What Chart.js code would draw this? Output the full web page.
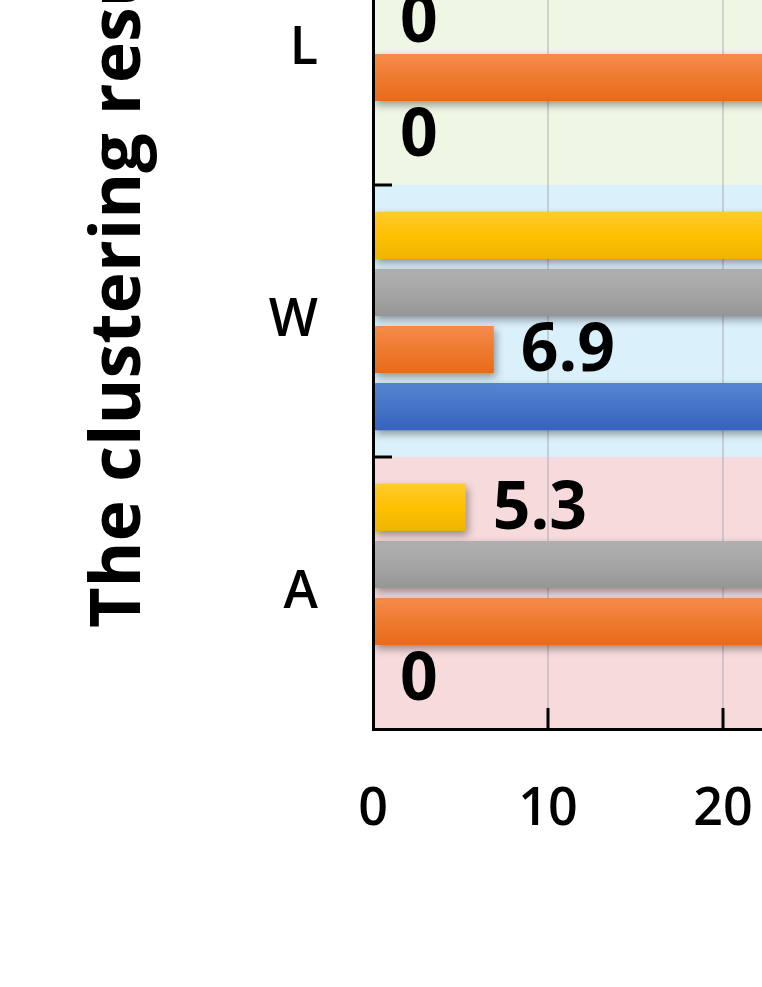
<!DOCTYPE html>
<html><head><meta charset="utf-8">
<script src="https://cdn.jsdelivr.net/npm/chart.js@4.4.1/dist/chart.umd.min.js"></script>
<style>
html,body{margin:0;padding:0;background:#fff;overflow:hidden;width:762px;height:987px;}
#wrap{position:absolute;left:0;top:-187px;}
</style></head><body>
<div id="wrap"><canvas id="c" width="1348" height="1116"></canvas></div>
<script>
// ---- data ----
const categories = ['L', 'W', 'A'];
const seriesNames = ['Series 1', 'Series 2', 'Series 3', 'Series 4'];
const yellowValues = [38.0, 40.5, 5.3];
const grayValues   = [0, 37.2, 42.6];
const orangeValues = [45.8, 6.9, 41.4];
const blueValues   = [0, 44.3, 0];
const xTickValues  = [0, 10, 20, 30, 40, 50];
const yAxisTitle   = 'The clustering results';

// ---- styles ----
const bandColors = ['#EEF6E4', '#DAF0FA', '#F7DADB'];
const CAT_PCT = 0.84, BAR_PCT = 0.825;
const FONT = '"Open Sans", "DejaVu Sans", sans-serif';

function grad(top, mid, bot) {
  return function (ctx) {
    const chart = ctx.chart, ys = chart.scales && chart.scales.y;
    if (ctx.type !== 'data' || !ys || !chart.chartArea) return mid;
    const c = ys.getPixelForValue(ctx.dataIndex);
    const cat = Math.abs(ys.getPixelForValue(1) - ys.getPixelForValue(0));
    const n = chart.data.datasets.length;
    const slot = cat * CAT_PCT / n;
    const y0 = c - cat * CAT_PCT / 2 + slot * ctx.datasetIndex + slot * (1 - BAR_PCT) / 2;
    const y1 = y0 + slot * BAR_PCT;
    const g = chart.ctx.createLinearGradient(0, y0, 0, y1);
    g.addColorStop(0, top); g.addColorStop(0.5, mid); g.addColorStop(1, bot);
    return g;
  };
}

const bandPlugin = {
  id: 'bands',
  beforeDraw(chart) {
    const {ctx, chartArea: a, scales: {y}} = chart;
    const cat = y.getPixelForValue(1) - y.getPixelForValue(0);
    ctx.save();
    categories.forEach((_, i) => {
      const c = y.getPixelForValue(i);
      ctx.fillStyle = bandColors[i];
      ctx.fillRect(a.left, c - cat / 2, a.right - a.left, cat);
    });
    ctx.restore();
  }
};

const shadowLabelPlugin = {
  id: 'shadowLabels',
  beforeDatasetsDraw(chart) {
    const ctx = chart.ctx;
    ctx.save();
    ctx.shadowColor = 'rgba(0,0,0,0.38)';
    ctx.shadowBlur = 8;
    ctx.shadowOffsetX = 2;
    ctx.shadowOffsetY = 4;
  },
  afterDatasetsDraw(chart) {
    const ctx = chart.ctx;
    ctx.restore();
    ctx.save();
    ctx.font = 'bold 66px ' + FONT;
    ctx.fillStyle = '#000';
    ctx.textAlign = 'left';
    ctx.textBaseline = 'middle';
    chart.data.datasets.forEach((ds, di) => {
      const meta = chart.getDatasetMeta(di);
      meta.data.forEach((el, i) => {
        const v = ds.data[i];
        ctx.fillText(String(v), el.x + 27, el.y + 3);
      });
    });
    ctx.restore();
  },
  afterDraw(chart) {
    const {ctx, chartArea: a, scales: {x, y}} = chart;
    ctx.save();
    ctx.strokeStyle = '#000';
    ctx.lineWidth = 3;
    xTickValues.forEach(v => {
      if (v === 0) return;
      const px = x.getPixelForValue(v);
      ctx.beginPath(); ctx.moveTo(px, a.bottom); ctx.lineTo(px, a.bottom - 21); ctx.stroke();
    });
    for (let i = -1; i < categories.length - 1; i++) {
      const py = (y.getPixelForValue(i) + y.getPixelForValue(i + 1)) / 2;
      ctx.beginPath(); ctx.moveTo(a.left, py); ctx.lineTo(a.left + 19, py); ctx.stroke();
    }
    // y axis title
    ctx.translate(a.left - 233, a.bottom - 101);
    ctx.rotate(-Math.PI / 2);
    ctx.font = 'bold 70px ' + FONT;
    ctx.fillStyle = '#000';
    ctx.textAlign = 'left';
    ctx.textBaseline = 'alphabetic';
    ctx.fillText(yAxisTitle, 0, 0);
    ctx.restore();
  }
};

new Chart(document.getElementById('c'), {
  type: 'bar',
  data: {
    labels: categories,
    datasets: [
      {label: seriesNames[0], data: yellowValues, backgroundColor: grad('#FFCB2E', '#FFC000', '#EDB500')},
      {label: seriesNames[1], data: grayValues,   backgroundColor: grad('#B0B0B0', '#A5A5A5', '#969696')},
      {label: seriesNames[2], data: orangeValues, backgroundColor: grad('#F58C4C', '#EF7A30', '#E86A1A')},
      {label: seriesNames[3], data: blueValues,   backgroundColor: grad('#5585D2', '#4674C6', '#3563BE')}
    ]
  },
  options: {
    indexAxis: 'y',
    responsive: false,
    devicePixelRatio: 1,
    animation: false,
    categoryPercentage: CAT_PCT,
    barPercentage: BAR_PCT,
    layout: {padding: {top: 100, right: 100, bottom: 0, left: 0}},
    plugins: {legend: {display: false}, tooltip: {enabled: false}},
    scales: {
      x: {
        min: 0, max: 50,
        afterBuildTicks: s => { s.ticks = xTickValues.map(v => ({value: v})); },
        afterFit: s => { s.height = 200; },
        grid: {color: 'rgba(165,165,185,0.45)', lineWidth: 2, drawTicks: false},
        border: {color: '#000', width: 3, z: 1},
        ticks: {padding: 50, color: '#000', font: {family: FONT, size: 52, weight: '600'}}
      },
      y: {
        afterFit: s => { s.width = 373; },
        grid: {display: false, drawTicks: false},
        border: {color: '#000', width: 3, z: 1},
        ticks: {padding: 55, color: '#000', font: {family: FONT, size: 52, weight: '600'}}
      }
    }
  },
  plugins: [bandPlugin, shadowLabelPlugin]
});
</script>
</body></html>
